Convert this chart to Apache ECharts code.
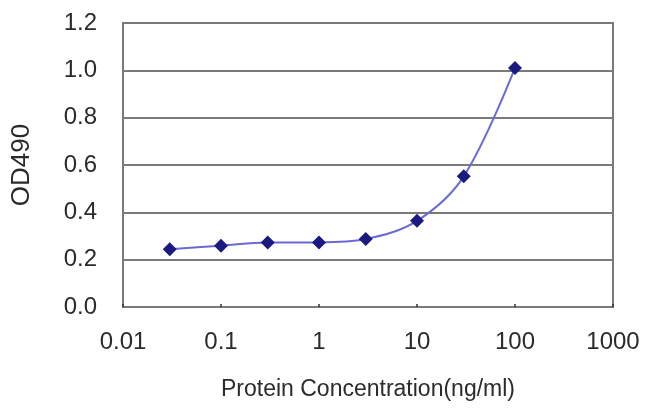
<!DOCTYPE html>
<html>
<head>
<meta charset="utf-8">
<script src="https://cdn.jsdelivr.net/npm/echarts@6/dist/echarts.min.js"></script>
<style>
html,body{margin:0;padding:0;background:#fff;}
#chart{width:650px;height:417px;}
</style>
</head>
<body>
<div id="chart"></div>
<script>
var concentrations = [0.03, 0.1, 0.3, 1, 3, 10, 30, 100];
var od490 = [0.244, 0.259, 0.273, 0.273, 0.287, 0.364, 0.552, 1.01];
var xTickLabels = ['0.01', '0.1', '1', '10', '100', '1000'];
var yTickLabels = ['0.0', '0.2', '0.4', '0.6', '0.8', '1.0', '1.2'];

var points = concentrations.map(function (c, i) { return [c, od490[i]]; });
var font = 'Liberation Sans, Arial, sans-serif';
var chart = echarts.init(document.getElementById('chart'), null, {renderer: 'canvas'});
chart.setOption({
  backgroundColor: '#ffffff',
  animation: false,
  grid: {left: 123, right: 37, top: 23, bottom: 110, show: true, borderColor: '#7a7a7a', borderWidth: 2, backgroundColor: '#ffffff'},
  xAxis: {
    type: 'log', logBase: 10, min: 0.01, max: 1000,
    name: 'Protein Concentration(ng/ml)', nameLocation: 'middle', nameGap: 71,
    nameTextStyle: {fontFamily: font, fontSize: 23, color: '#2b2b2b'},
    axisLine: {show: true, lineStyle: {color: '#7a7a7a', width: 2}},
    axisTick: {show: true, inside: true, length: 3, lineStyle: {color: '#333', width: 1.5}},
    axisLabel: {
      margin: 23, fontFamily: font, fontSize: 24, color: '#2b2b2b',
      formatter: function (v) { var i = Math.round(Math.log10(v)) + 2; return xTickLabels[i]; }
    },
    splitLine: {show: false}, minorTick: {show: false}
  },
  yAxis: {
    type: 'value', min: 0, max: 1.2, interval: 0.2,
    name: 'OD490', nameLocation: 'middle', nameGap: 88,
    nameTextStyle: {fontFamily: font, fontSize: 26, color: '#2b2b2b'},
    axisLine: {show: true, lineStyle: {color: '#7a7a7a', width: 2}},
    axisTick: {show: false},
    axisLabel: {
      margin: 26, fontFamily: font, fontSize: 24, color: '#2b2b2b',
      formatter: function (v) { return yTickLabels[Math.round(v / 0.2)]; }
    },
    splitLine: {show: true, lineStyle: {color: '#7a7a7a', width: 2}}
  },
  series: [{
    type: 'line', data: points, smooth: 0.35,
    symbol: 'diamond', symbolSize: 14,
    lineStyle: {color: '#6a6ad2', width: 2},
    itemStyle: {color: '#1a1a80'}
  }]
});
</script>
</body>
</html>
